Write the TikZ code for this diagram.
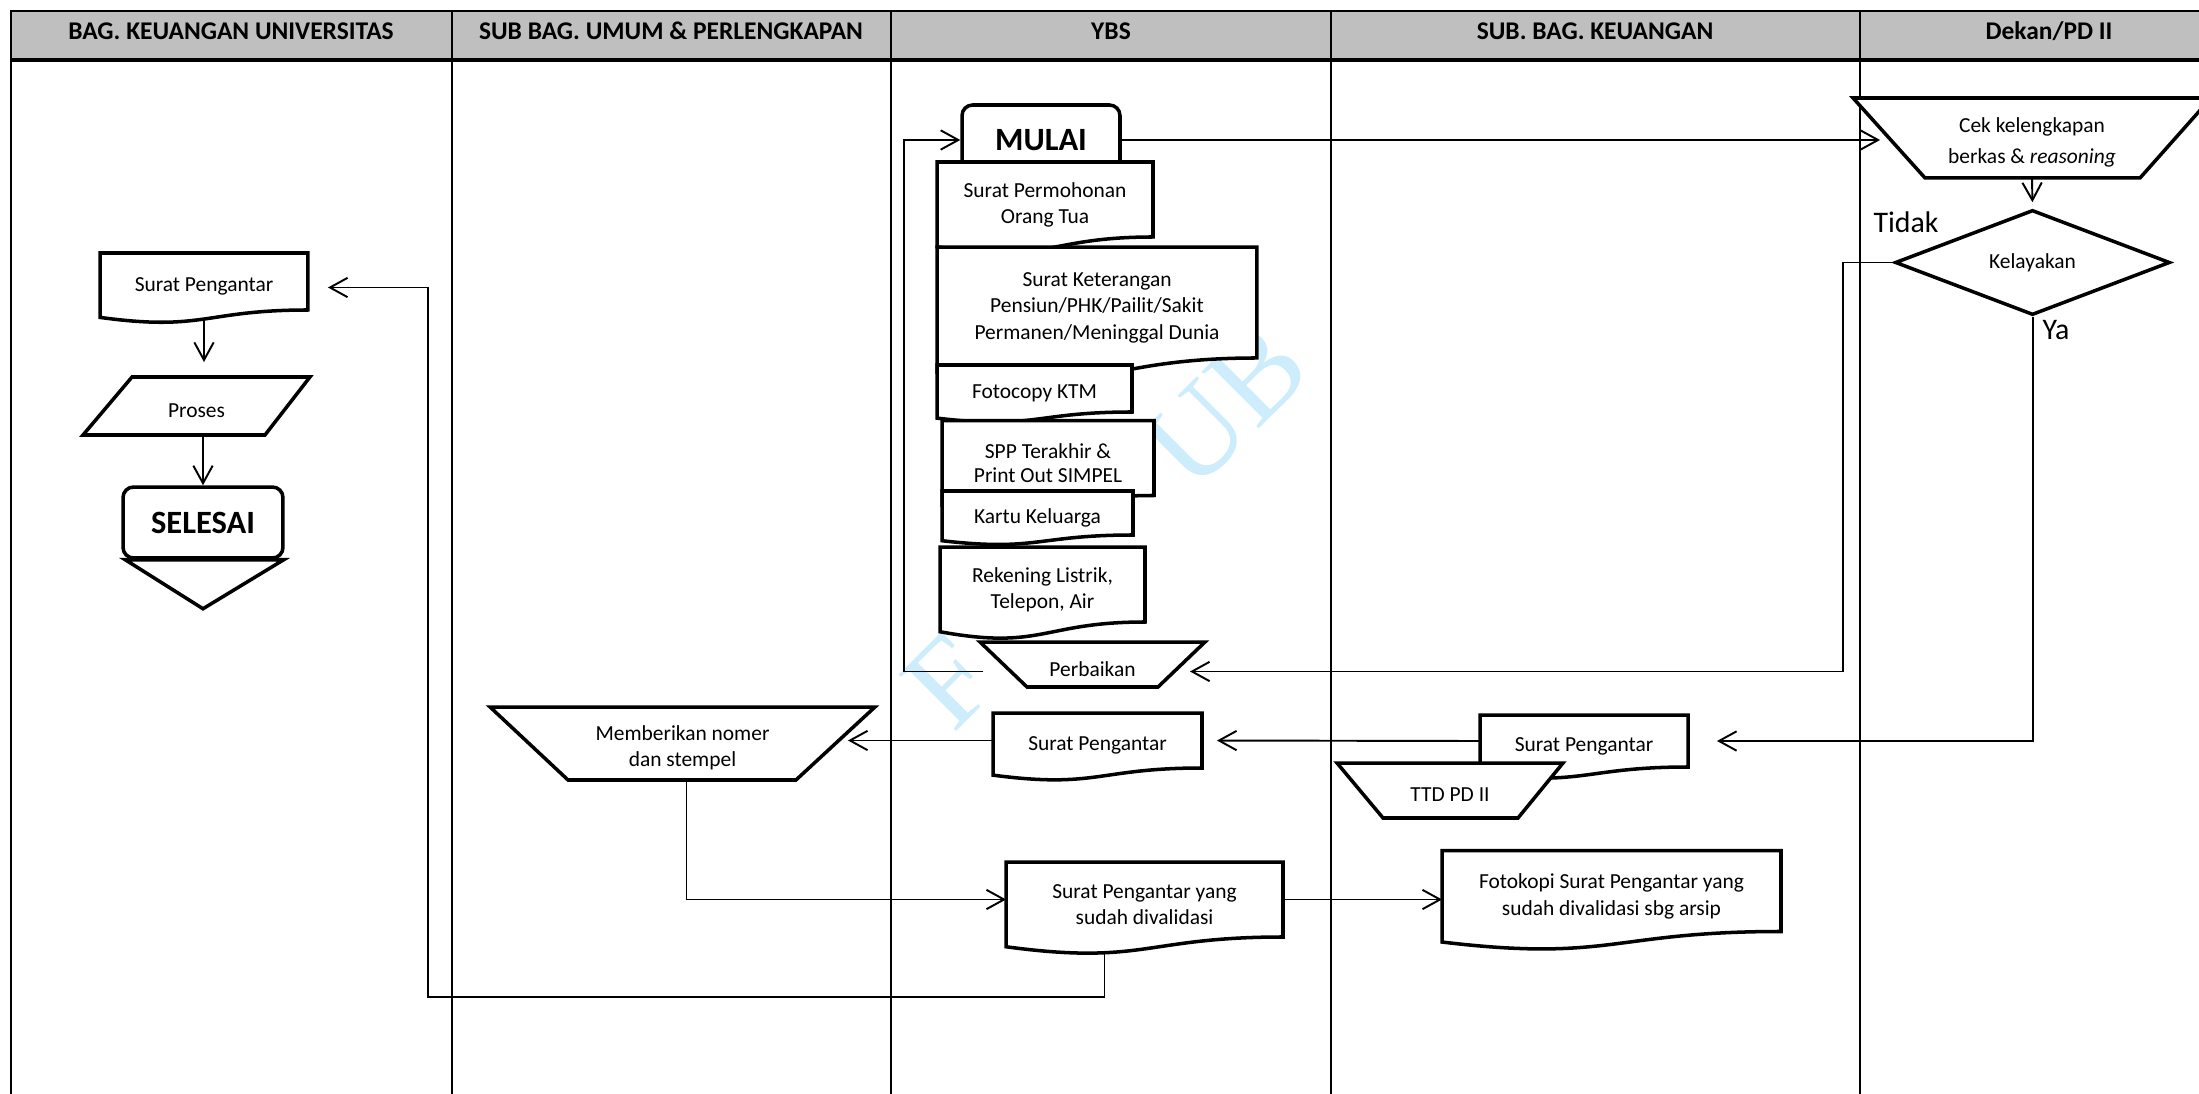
\documentclass[tikz,border=0pt]{standalone}
\usepackage{fontspec}
\setmainfont{Carlito}
\newfontfamily\wmfont{Liberation Serif}
\usepackage{tikz}
\usetikzlibrary{shapes.geometric, arrows.meta, positioning, calc}

\definecolor{headgray}{RGB}{191,191,191}
\definecolor{wmark}{RGB}{205,236,252}
\newcommand{\nodefont}{\fontsize{12.2}{15}\selectfont}

% flowchart symbols built on the rectangle anchors
\makeatletter
\newdimen\docleft \newdimen\docright \newdimen\docmid
\newdimen\doctop \newdimen\docbot
\newdimen\docwavel \newdimen\docwavec
\newdimen\insettl \newdimen\insettr \newdimen\insetbl \newdimen\insetbr
\pgfkeys{/pgf/.cd, inset tl/.initial=0pt, inset tr/.initial=0pt, inset bl/.initial=0pt, inset br/.initial=0pt}
% document: wavy bottom edge
\pgfdeclareshape{docshape}{
  \inheritsavedanchors[from=rectangle]
  \inheritanchorborder[from=rectangle]
  \inheritanchor[from=rectangle]{center}
  \inheritanchor[from=rectangle]{north}
  \inheritanchor[from=rectangle]{south}
  \inheritanchor[from=rectangle]{east}
  \inheritanchor[from=rectangle]{west}
  \inheritanchor[from=rectangle]{north east}
  \inheritanchor[from=rectangle]{north west}
  \inheritanchor[from=rectangle]{south east}
  \inheritanchor[from=rectangle]{south west}
  \anchor{text}{\pgfqpoint{0pt}{-3pt}}
  \backgroundpath{%
    \southwest \docleft=\pgf@x \docbot=\pgf@y
    \northeast \docright=\pgf@x \doctop=\pgf@y
    \docmid=.5\docleft \advance\docmid by .5\docright
    \docwavel=\doctop \advance\docwavel by -\docbot
    \docwavec=\docwavel
    \docwavel=-.13\docwavel \advance\docwavel by \docbot
    \docwavec=-.38\docwavec \advance\docwavec by \docbot
    \pgfpathmoveto{\pgfqpoint{\docleft}{\doctop}}%
    \pgfpathlineto{\pgfqpoint{\docright}{\doctop}}%
    \pgfpathlineto{\pgfqpoint{\docright}{\docbot}}%
    \pgfpathcurveto{\pgfqpoint{\docmid}{\docbot}}{\pgfqpoint{\docmid}{\docwavec}}{\pgfqpoint{\docleft}{\docwavel}}%
    \pgfpathclose
  }
}
% four-corner box with slanted sides (manual operation, parallelogram)
\pgfdeclareshape{slantbox}{
  \inheritsavedanchors[from=rectangle]
  \inheritanchorborder[from=rectangle]
  \inheritanchor[from=rectangle]{center}
  \inheritanchor[from=rectangle]{north}
  \inheritanchor[from=rectangle]{south}
  \inheritanchor[from=rectangle]{east}
  \inheritanchor[from=rectangle]{west}
  \inheritanchor[from=rectangle]{north east}
  \inheritanchor[from=rectangle]{north west}
  \inheritanchor[from=rectangle]{south east}
  \inheritanchor[from=rectangle]{south west}
  \anchor{text}{\pgfqpoint{0pt}{-2.5pt}}
  \backgroundpath{%
    \southwest \docleft=\pgf@x \docbot=\pgf@y
    \northeast \docright=\pgf@x \doctop=\pgf@y
    \pgfmathsetlength\insettl{\pgfkeysvalueof{/pgf/inset tl}}%
    \pgfmathsetlength\insettr{\pgfkeysvalueof{/pgf/inset tr}}%
    \pgfmathsetlength\insetbl{\pgfkeysvalueof{/pgf/inset bl}}%
    \pgfmathsetlength\insetbr{\pgfkeysvalueof{/pgf/inset br}}%
    \advance\insettl by \docleft \advance\insetbl by \docleft
    \insettr=-\insettr \advance\insettr by \docright
    \insetbr=-\insetbr \advance\insetbr by \docright
    \pgfpathmoveto{\pgfqpoint{\insettl}{\doctop}}%
    \pgfpathlineto{\pgfqpoint{\insettr}{\doctop}}%
    \pgfpathlineto{\pgfqpoint{\insetbr}{\docbot}}%
    \pgfpathlineto{\pgfqpoint{\insetbl}{\docbot}}%
    \pgfpathclose
  }
}
\makeatother

\tikzstyle{docbox} = [shape=docshape, draw, line width=2pt, fill=white, align=center, font=\nodefont, outer sep=0pt]
\tikzstyle{manop} = [shape=slantbox, draw, line width=2pt, fill=white, align=center, font=\nodefont, outer sep=0pt, inner sep=1pt]
\tikzstyle{startstop} = [rectangle, rounded corners=6pt, draw, line width=2pt, fill=white, font=\bfseries\fontsize{18.5}{18.5}\selectfont]
\tikzstyle{decision} = [diamond, draw, line width=2pt, fill=white, font=\nodefont, inner sep=0pt]
\tikzstyle{lane} = [line width=1.1pt]
\tikzstyle{lanehead} = [font=\bfseries\fontsize{14.5}{14.5}\selectfont, anchor=base]
\tikzstyle{branch} = [font=\fontsize{17}{17}\selectfont]
\tikzstyle{arrow} = [line width=1.1pt, -{Straight Barb[length=10pt, width=11pt]}]

\begin{document}
\begin{tikzpicture}[x=0.02cm, y=-0.02cm]
  \useasboundingbox (0,0) rectangle (2199,1094);
  \clip (0,0) rectangle (2199,1094);

  % swimlanes
  \draw[line width=1.6pt, fill=headgray] (11,11) rectangle (2240,60);
  \foreach \x in {11,452,891,1331,1860}
    \draw[lane] (\x,11) -- (\x,1100);
  \draw[line width=2pt] (11,60) -- (2240,60);
  \node (hbku) [lanehead] at (231,40) {BAG. KEUANGAN UNIVERSITAS};
  \node (humum) [lanehead] at (671,40) {SUB BAG. UMUM \& PERLENGKAPAN};
  \node (hybs) [lanehead] at (1111,40) {YBS};
  \node (hkeu) [lanehead] at (1595,40) {SUB. BAG. KEUANGAN};
  \node (hdekan) [lanehead] at (2049,40) {Dekan/PD II};

  \node (wm) [rotate=45, text=wmark, inner sep=0pt, font=\wmfont\fontsize{70}{70}\selectfont] at (1106,526) {F\hspace{2.2em}UB};

  % Bag. Keuangan Universitas
  \node (sp1) [docbox, minimum width=4.16cm, minimum height=1.14cm] at (204,281.5) {Surat Pengantar};
  \node (proses) [manop, inset tl=0.98cm, inset br=0.9cm, minimum width=4.54cm, minimum height=1.16cm] at (196.5,406) {Proses};
  \node (selesai) [startstop, minimum width=3.2cm, minimum height=1.42cm] at (203,522.5) {SELESAI};
  \draw[line width=2pt, fill=white] ($(selesai.south west)+(4,0)$) -- ($(selesai.south east)+(-1,0)$) -- ($(selesai.south)+(0,49)$) -- cycle;

  % YBS
  \node (mulai) [startstop, minimum width=3.16cm, minimum height=1.4cm] at (1041,140) {MULAI};
  \node (spot) [docbox, minimum width=4.32cm, minimum height=1.5cm] at (1045,199.5) {Surat Permohonan\\Orang Tua};
  \node (sket) [docbox, minimum width=6.4cm, minimum height=2.22cm] at (1097,302.5) {Surat Keterangan\\Pensiun/PHK/Pailit/Sakit\\Permanen/Meninggal Dunia};
  \node (ktm) [docbox, minimum width=3.9cm, minimum height=0.94cm] at (1034.5,388.5) {Fotocopy KTM};
  \node (spp) [docbox, minimum width=4.24cm, minimum height=1.5cm, font=\fontsize{12.2}{13.6}\selectfont] at (1048,458) {SPP Terakhir \&\\Print Out SIMPEL};
  \node (kk) [docbox, minimum width=3.82cm, minimum height=0.88cm] at (1037.5,513) {Kartu Keluarga};
  \node (rek) [docbox, minimum width=4.1cm, minimum height=1.5cm] at (1042.5,584.5) {Rekening Listrik,\\Telepon, Air};
  \node (perb) [manop, inset bl=0.94cm, inset br=0.94cm, minimum width=4.5cm, minimum height=0.9cm] at (1092.5,664.5) {Perbaikan};
  \node (sp2) [docbox, minimum width=4.18cm, minimum height=1.1cm] at (1097.5,740.5) {Surat Pengantar};
  \node (spv) [docbox, minimum width=5.54cm, minimum height=1.5cm] at (1144.5,899.5) {Surat Pengantar yang\\sudah divalidasi};

  % Sub Bag. Umum & Perlengkapan
  \node (memb) [manop, inset bl=1.56cm, inset br=1.58cm, minimum width=7.7cm, minimum height=1.46cm] at (682.5,743.5) {Memberikan nomer\\dan stempel};

  % Sub. Bag. Keuangan
  \node (spk) [docbox, minimum width=4.16cm, minimum height=1.04cm] at (1584,741) {Surat Pengantar};
  \node (ttd) [manop, inset bl=0.92cm, inset br=0.9cm, minimum width=4.52cm, minimum height=1.1cm] at (1450,790.5) {TTD PD II};
  \node (fk) [docbox, minimum width=6.78cm, minimum height=1.62cm] at (1611.5,891) {Fotokopi Surat Pengantar yang\\sudah divalidasi sbg arsip};

  % Dekan/PD II
  \node (cek) [manop, inset bl=1.44cm, inset br=1.42cm, minimum width=7.16cm, minimum height=1.6cm, font=\fontsize{12.2}{17.5}\selectfont] at (2032,138) {Cek kelengkapan\\berkas \& \textit{reasoning}};
  \node (kel) [decision, minimum width=5.5cm, minimum height=1.98cm] at (2032.5,262.5) {Kelayakan};
  \node (tidak) [branch] at (1906,222) {Tidak};
  \node (ya) [branch] at (2056,330) {Ya};

  % flow
  \draw[arrow] ($(perb.west)+(3,7)$) -| ($(mulai.west)+(-56,0)$) -- (mulai.west);
  \draw[arrow] (mulai.east) -- ($(mulai.east -| cek.west)+(27,0)$);
  \draw[arrow, shorten >=0.12cm] (cek.south) -- (kel.north);
  \draw[arrow] (kel.west) -- ++(-50,0) |- ($(perb.east)+(-15,7)$);
  \draw[arrow, shorten >=0.58cm] (kel.south) |- (spk.east);
  \draw[arrow, shorten >=0.3cm] (spk.west) -- (sp2.east);
  \draw[arrow] (sp2.west) -- ($(sp2.west -| memb.east)+(-27,0)$);
  \draw[arrow] ($(memb.south)+(4,0)$) |- (spv.west);
  \draw[arrow] (spv.east) -- (spv.east -| fk.west);
  \draw[arrow] ($(spv.south)+(-40,14)$) -- ++(0,46) -| ($(sp1.east)+(120,6)$) -- ($(sp1.east)+(20,6)$);
  \draw[arrow, shorten >=0.3cm] ($(sp1.south)+(0,8)$) -- (sp1.south |- proses.north);
  \draw[arrow] (proses.south -| selesai.north) -- (selesai.north);
\end{tikzpicture}
\end{document}
